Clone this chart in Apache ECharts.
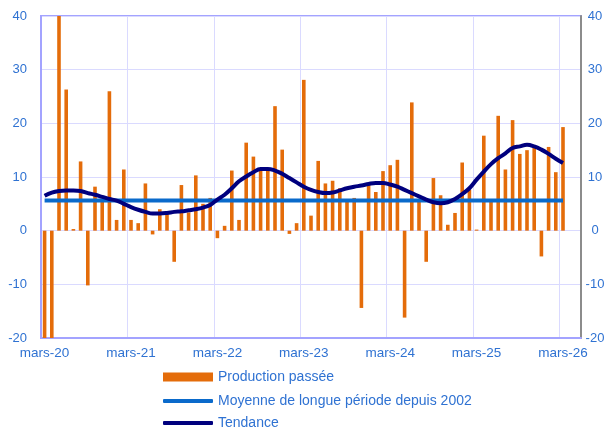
<!DOCTYPE html>
<html>
<head>
<meta charset="utf-8">
<script src="https://cdn.jsdelivr.net/npm/echarts@6/dist/echarts.min.js"></script>
<style>
    html, body { margin: 0; padding: 0; background: #fff; }
    #chart { width: 605px; height: 430px; }
</style>
</head>
<body>
<div id="chart"></div>
<script>
// mois, de mars-20 a mai-26 (les deux derniers sans donnees)
var monthNames = ['janv.', 'févr.', 'mars', 'avr.', 'mai', 'juin', 'juil.', 'août', 'sept.', 'oct.', 'nov.', 'déc.'];
var firstYear = 20, firstMonth = 2, monthCount = 75;

var production = [
    -21, -23, 45, 26.3, 0.3, 12.9, -10.2, 8.2, 5.8, 26.0, 2.0, 11.4,
    2.0, 1.4, 8.8, -0.7, 4.0, 3.2, -5.8, 8.5, 3.4, 10.3, 5.0, 6.1,
    -1.4, 0.9, 11.2, 2.0, 16.4, 13.8, 11.5, 11.4, 23.2, 15.1, -0.6, 1.4,
    28.1, 2.8, 13.0, 8.8, 9.3, 7.9, 5.5, 6.1, -14.4, 8.6, 7.2, 11.1,
    12.2, 13.2, -16.2, 23.9, 5.5, -5.8, 9.8, 6.6, 1.1, 3.3, 12.7, 7.6,
    0.2, 17.7, 5.5, 21.4, 11.4, 20.6, 14.3, 15.0, 15.4, -4.8, 15.6, 10.9,
    19.3
];
var tendance = [
    6.5, 7.1, 7.4, 7.5, 7.5, 7.4, 7.0, 6.7, 6.3, 5.9, 5.6, 5.0,
    4.4, 3.9, 3.5, 3.2, 3.2, 3.3, 3.5, 3.6, 3.8, 4.0, 4.3, 4.8,
    5.8, 6.7, 7.9, 9.2, 10.1, 10.9, 11.5, 11.5, 11.2, 10.6, 9.8, 9.0,
    8.2, 7.6, 7.2, 7.0, 7.1, 7.5, 7.9, 8.2, 8.4, 8.7, 8.9, 8.9,
    8.6, 8.2, 7.6, 7.0, 6.4, 5.8, 5.3, 5.1, 5.3, 5.9, 6.8, 7.9,
    9.5, 11.0, 12.4, 13.5, 14.4, 15.4, 15.7, 16.0, 15.7, 15.1, 14.3, 13.4,
    12.6
];
var moyenneValue = 5.6;
var yTicks = {min: -20, max: 40, interval: 10};

var seriesNames = ['Production passée', 'Moyenne de longue période depuis 2002', 'Tendance'];

var categories = [];
for (var i = 0; i < monthCount; i++) {
    var m = (firstMonth + i) % 12;
    var y = firstYear + Math.floor((firstMonth + i) / 12);
    categories.push(monthNames[m] + '-' + y);
}
var moyenne = production.map(function () { return moyenneValue; });

var textColor = '#2F72D2';
var frameColor = '#A3A3FF';
var gridColor = '#DADAFF';
var fontFamily = '"Liberation Sans", Arial, sans-serif';

function legendBox(name, top, height, icon) {
    return {
        data: [name],
        left: 163,
        top: top,
        padding: 0,
        orient: 'vertical',
        icon: icon,
        itemWidth: 50,
        itemHeight: height,
        selectedMode: false,
        textStyle: {color: textColor, fontSize: 14, fontFamily: fontFamily}
    };
}

var chart = echarts.init(document.getElementById('chart'), null, {renderer: 'canvas'});
chart.setOption({
    animation: false,
    backgroundColor: '#fff',
    textStyle: {fontFamily: fontFamily},
    grid: {
        left: 41, right: 24, top: 16, bottom: 92,
        outerBoundsMode: 'none',
        show: true, borderColor: frameColor, borderWidth: 2
    },
    legend: [
        legendBox(seriesNames[0], 370, 9, 'rect'),
        legendBox(seriesNames[1], 394, 4, 'roundRect'),
        legendBox(seriesNames[2], 416, 4, 'roundRect')
    ],
    xAxis: {
        type: 'category',
        data: categories,
        boundaryGap: true,
        axisLine: {onZero: false, lineStyle: {color: frameColor, width: 2}},
        axisTick: {show: false},
        axisLabel: {interval: 11, color: textColor, fontSize: 13.5, margin: 8},
        splitLine: {show: true, interval: 11, lineStyle: {color: gridColor, width: 1}}
    },
    yAxis: [{
        type: 'value',
        min: yTicks.min, max: yTicks.max, interval: yTicks.interval,
        axisLine: {show: true, lineStyle: {color: frameColor, width: 2}},
        axisTick: {show: false},
        axisLabel: {color: textColor, fontSize: 13, margin: 14},
        splitLine: {lineStyle: {color: gridColor, width: 1}}
    }, {
        type: 'value',
        position: 'right',
        min: yTicks.min, max: yTicks.max, interval: yTicks.interval,
        axisLine: {show: true, lineStyle: {color: '#8C8C8C', width: 2}},
        axisTick: {show: false},
        axisLabel: {color: textColor, fontSize: 13, margin: 14, align: 'center'},
        splitLine: {show: false}
    }],
    series: [{
        name: seriesNames[0],
        type: 'bar',
        data: production,
        barWidth: '50%',
        clip: true,
        itemStyle: {color: '#E46C0A'}
    }, {
        name: seriesNames[1],
        type: 'line',
        data: moyenne,
        symbol: 'none',
        lineStyle: {color: '#0A6ACB', width: 4},
        itemStyle: {color: '#0A6ACB'}
    }, {
        name: seriesNames[2],
        type: 'line',
        data: tendance,
        smooth: 0.4,
        symbol: 'none',
        lineStyle: {color: '#00007E', width: 4},
        itemStyle: {color: '#00007E'}
    }]
});
</script>
</body>
</html>
